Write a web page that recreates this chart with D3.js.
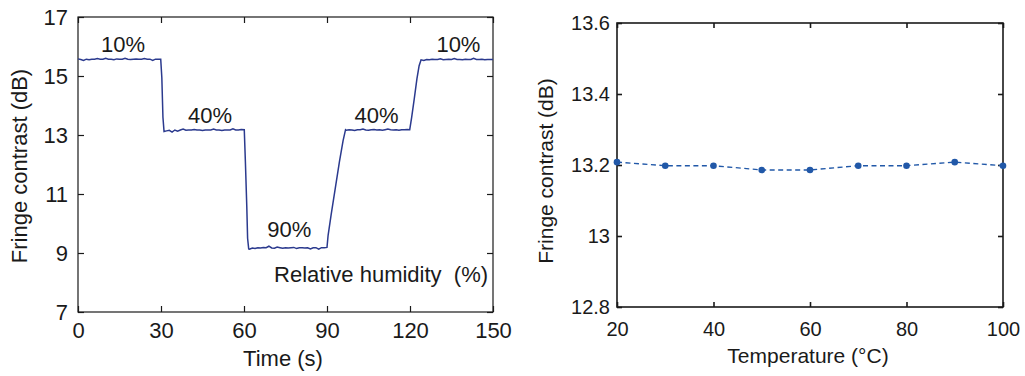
<!DOCTYPE html>
<html>
<head>
<meta charset="utf-8">
<script src="https://cdn.jsdelivr.net/npm/d3@7"></script>
<style>
  html, body { margin: 0; padding: 0; background: #fff; }
  svg { display: block; }
  text { font-family: "Liberation Sans", Arial, sans-serif; fill: #1a1a1a; }
</style>
</head>
<body>
<svg id="chart" width="1025" height="376"></svg>
<script>
'use strict';

// left panel: fringe contrast vs time while humidity steps
var humidityTime = [
    0, 1, 2, 3, 4, 5, 6, 7, 8, 9, 10, 11, 12, 13, 14, 15, 16, 17, 18, 19,
    20, 21, 22, 23, 24, 25, 26, 27, 28, 29,
    29.9, 30.3, 30.7, 31.1,
    32, 33, 34, 35, 36, 37, 38, 39, 40, 41, 42, 43, 44, 45, 46, 47, 48, 49,
    50, 51, 52, 53, 54, 55, 56, 57, 58, 59,
    60.1, 60.5, 61.0, 61.3, 61.7,
    62, 63, 64, 65, 66, 67, 68, 69, 70, 71, 72, 73, 74, 75, 76, 77, 78, 79,
    80, 81, 82, 83, 84, 85, 86, 87, 88, 89, 90,
    90.4, 91.5, 93, 94.5, 95.8, 96.7,
    97, 98, 99, 100, 101, 102, 103, 104, 105, 106, 107, 108, 109, 110,
    111, 112, 113, 114, 115, 116, 117, 118, 119, 119.9,
    120.6, 121.5, 122.5, 123.3, 124,
    125, 126, 127, 128, 129, 130, 131, 132, 133, 134, 135, 136, 137, 138,
    139, 140, 141, 142, 143, 144, 145, 146, 147, 148, 149, 150
];
var humidityContrast = [
    15.58, 15.56, 15.53, 15.57, 15.55, 15.57, 15.57, 15.59, 15.57, 15.57,
    15.60, 15.57, 15.57, 15.55, 15.58, 15.57, 15.57, 15.60, 15.57, 15.56,
    15.57, 15.58, 15.57, 15.57, 15.59, 15.57, 15.57, 15.53, 15.57, 15.57,
    15.57, 14.95, 13.60, 13.12,
    13.14, 13.16, 13.10, 13.17, 13.13, 13.17, 13.20, 13.16, 13.17, 13.17,
    13.19, 13.17, 13.17, 13.15, 13.17, 13.17, 13.17, 13.20, 13.17, 13.17,
    13.15, 13.17, 13.17, 13.17, 13.21, 13.17, 13.17, 13.19,
    13.18, 12.10, 10.60, 9.50, 9.14,
    9.13, 9.17, 9.15, 9.18, 9.17, 9.19, 9.18, 9.23, 9.17, 9.16,
    9.20, 9.18, 9.16, 9.18, 9.17, 9.18, 9.19, 9.15, 9.18, 9.18,
    9.17, 9.18, 9.14, 9.18, 9.18, 9.13, 9.18, 9.18, 9.19,
    9.60, 10.30, 11.20, 12.10, 12.80, 13.18,
    13.16, 13.18, 13.17, 13.15, 13.18, 13.18, 13.20, 13.17, 13.16, 13.18,
    13.19, 13.17, 13.18, 13.16, 13.18, 13.20, 13.18, 13.17, 13.18, 13.16,
    13.18, 13.18, 13.19, 13.18,
    13.60, 14.20, 14.90, 15.35, 15.55,
    15.53, 15.56, 15.55, 15.57, 15.56, 15.56, 15.58, 15.55, 15.56, 15.57,
    15.56, 15.59, 15.56, 15.56, 15.55, 15.57, 15.56, 15.56, 15.60, 15.56,
    15.56, 15.57, 15.55, 15.56, 15.56, 15.56
];
var humidityLabels = ["10%", "40%", "90%", "40%", "10%"];
var humidityLabelTime = [16.3, 47.7, 76.4, 107.9, 137.5];
var humidityLabelValue = [15.82, 13.39, 9.55, 13.39, 15.82];
var timeTicks = [0, 30, 60, 90, 120, 150];
var contrastTicksLeft = [7, 9, 11, 13, 15, 17];

// right panel: fringe contrast vs temperature
var temperature = [20, 30, 40, 50, 60, 70, 80, 90, 100];
var tempContrast = [13.208, 13.198, 13.198, 13.186, 13.186, 13.198, 13.198, 13.208, 13.198];
var temperatureTicks = [20, 40, 60, 80, 100];
var contrastTicksRight = [12.8, 13, 13.2, 13.4, 13.6];
var contrastTickLabelsRight = ["12.8", "13", "13.2", "13.4", "13.6"];

var svg = d3.select("#chart");

function drawFrame(g, x, y, xTicks, yTicks, opts) {
    var x0 = x.range()[0], x1 = x.range()[1];
    var y0 = y.range()[0], y1 = y.range()[1];
    var tick = opts.tick;

    var bottom = g.append("g")
        .attr("transform", "translate(0," + y0 + ")")
        .call(d3.axisBottom(x).tickValues(xTicks).tickSize(-tick)
            .tickPadding(opts.xPad).tickFormat(opts.xFormat));
    var left = g.append("g")
        .attr("transform", "translate(" + x0 + ",0)")
        .call(d3.axisLeft(y).tickValues(yTicks).tickSize(-tick)
            .tickPadding(opts.yPad).tickFormat(opts.yFormat));
    var top = g.append("g")
        .attr("transform", "translate(0," + y1 + ")")
        .call(d3.axisTop(x).tickValues(xTicks).tickSize(-tick).tickFormat(""));
    var right = g.append("g")
        .attr("transform", "translate(" + x1 + ",0)")
        .call(d3.axisRight(y).tickValues(yTicks).tickSize(-tick).tickFormat(""));

    [bottom, left, top, right].forEach(function (a) {
        a.select(".domain").remove();
        a.selectAll("line").attr("stroke", opts.stroke).attr("stroke-width", opts.width);
        a.selectAll("text")
            .attr("fill", "#1a1a1a")
            .style("font-family", "'Liberation Sans', Arial, sans-serif")
            .style("font-size", opts.font + "px");
    });

    g.append("rect")
        .attr("x", x0)
        .attr("y", y1)
        .attr("width", x1 - x0)
        .attr("height", y0 - y1)
        .attr("fill", "none")
        .attr("stroke", opts.stroke)
        .attr("stroke-width", opts.width);
}

// ---- left panel ----
var xL = d3.scaleLinear().domain([0, 150]).range([78, 493]);
var yL = d3.scaleLinear().domain([7, 17]).range([312, 17]);
var gL = svg.append("g");

drawFrame(gL, xL, yL, timeTicks, contrastTicksLeft, {
    tick: 6, xPad: 10, yPad: 10, font: 22, stroke: "#1a1a1a", width: 1.2,
    xFormat: d3.format("d"), yFormat: d3.format("d")
});

var humidityPoints = humidityTime.map(function (t, i) { return [t, humidityContrast[i]]; });

gL.append("path")
    .datum(humidityPoints)
    .attr("fill", "none")
    .attr("stroke", "#2b3a8e")
    .attr("stroke-width", 1.5)
    .attr("d", d3.line()
        .x(function (d) { return xL(d[0]); })
        .y(function (d) { return yL(d[1]); }));

gL.selectAll("text.level")
    .data(humidityLabels)
    .enter().append("text")
    .attr("class", "level")
    .attr("x", function (d, i) { return xL(humidityLabelTime[i]); })
    .attr("y", function (d, i) { return yL(humidityLabelValue[i]); })
    .attr("text-anchor", "middle")
    .style("font-size", "22px")
    .text(function (d) { return d; });

gL.append("text")
    .attr("x", xL(148.2))
    .attr("y", yL(8.02))
    .attr("text-anchor", "end")
    .attr("xml:space", "preserve")
    .style("white-space", "pre")
    .style("font-size", "22px")
    .text("Relative humidity  (%)");

gL.append("text")
    .attr("x", 283)
    .attr("y", 366)
    .attr("text-anchor", "middle")
    .style("font-size", "22px")
    .text("Time (s)");

gL.append("text")
    .attr("transform", "translate(27,166) rotate(-90)")
    .attr("text-anchor", "middle")
    .style("font-size", "22px")
    .text("Fringe contrast (dB)");

// ---- right panel ----
var xR = d3.scaleLinear().domain([20, 100]).range([617, 1003]);
var yR = d3.scaleLinear().domain([12.8, 13.6]).range([307, 23]);
var gR = svg.append("g");

drawFrame(gR, xR, yR, temperatureTicks, contrastTicksRight, {
    tick: 5, xPad: 15, yPad: 7, font: 20, stroke: "#1a1a1a", width: 1.6,
    xFormat: d3.format("d"),
    yFormat: function (d, i) { return contrastTickLabelsRight[i]; }
});

var tempPoints = temperature.map(function (t, i) { return [t, tempContrast[i]]; });

gR.append("path")
    .datum(tempPoints)
    .attr("fill", "none")
    .attr("stroke", "#2158a8")
    .attr("stroke-width", 1.4)
    .attr("stroke-dasharray", "5,3.5")
    .attr("d", d3.line()
        .x(function (d) { return xR(d[0]); })
        .y(function (d) { return yR(d[1]); }));

gR.selectAll("circle.pt")
    .data(tempPoints)
    .enter().append("circle")
    .attr("class", "pt")
    .attr("cx", function (d) { return xR(d[0]); })
    .attr("cy", function (d) { return yR(d[1]); })
    .attr("r", 3.3)
    .attr("fill", "#2158a8");

gR.append("text")
    .attr("x", 808)
    .attr("y", 363)
    .attr("text-anchor", "middle")
    .style("font-size", "21px")
    .text("Temperature (°C)");

gR.append("text")
    .attr("transform", "translate(553,171) rotate(-90)")
    .attr("text-anchor", "middle")
    .style("font-size", "21px")
    .text("Fringe contrast (dB)");
</script>
</body>
</html>
